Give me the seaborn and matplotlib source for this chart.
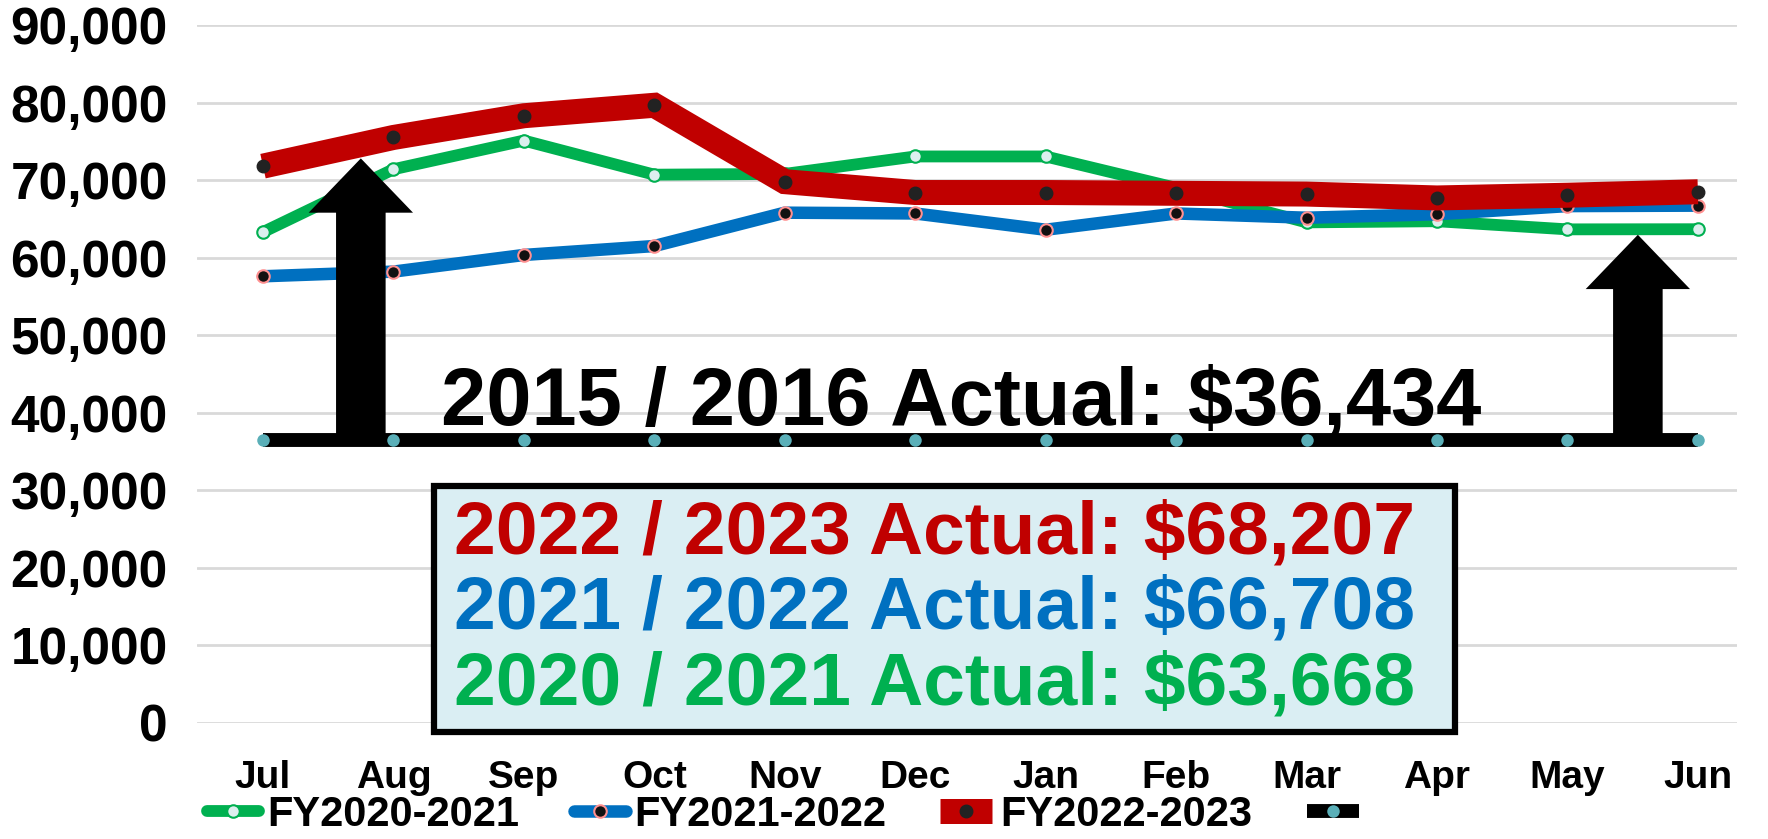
import matplotlib
matplotlib.use("Agg")
import matplotlib.pyplot as plt
import seaborn as sns
import numpy as np
import pandas as pd
from matplotlib.patches import FancyArrow, Rectangle
from matplotlib.ticker import FuncFormatter

months = ['Jul', 'Aug', 'Sep', 'Oct', 'Nov', 'Dec', 'Jan', 'Feb', 'Mar', 'Apr', 'May', 'Jun']
fy2020_2021 = [63300, 71400, 75100, 70700, 70800, 73050, 73050, 69000, 64550, 64700, 63650, 63668]
fy2021_2022 = [57600, 58200, 60350, 61500, 65800, 65700, 63600, 65700, 65150, 65600, 66650, 66708]
fy2022_2023 = [71800, 75500, 78300, 79650, 69800, 68400, 68400, 68300, 68200, 67700, 68050, 68500]
baseline_2015_2016 = [36434, 36434, 36434, 36434, 36434, 36434, 36434, 36434, 36434, 36434, 36434, 36434]
series_labels = ['FY2020-2021', 'FY2021-2022', 'FY2022-2023', '']
box_lines = ['2022 / 2023 Actual: $68,207', '2021 / 2022 Actual: $66,708', '2020 / 2021 Actual: $63,668']
base_text = '2015 / 2016 Actual: $36,434'
yticks = [0, 10000, 20000, 30000, 40000, 50000, 60000, 70000, 80000, 90000]
arrow_left_x, arrow_left_tip = 0.75, 72800
arrow_right_x, arrow_right_tip = 10.54, 62950

sns.set_theme(style='white')
plt.rcParams['font.family'] = ['Liberation Sans', 'DejaVu Sans']
plt.rcParams['font.weight'] = 'bold'
plt.rcParams['text.color'] = 'black'
plt.rcParams['xtick.color'] = 'black'
plt.rcParams['ytick.color'] = 'black'

W, H = 1768, 839
fig = plt.figure(figsize=(W / 100, H / 100), dpi=100)
ax = fig.add_axes([197 / W, 1 - 723 / H, (1737 - 197) / W, (723 - 25) / H])

x = np.arange(len(months))
df = pd.DataFrame({'x': x, 'g': fy2020_2021, 'b': fy2021_2022, 'r': fy2022_2023, 'k': baseline_2015_2016})

GREEN, BLUE, RED = '#00b050', '#0070c0', '#c00000'

sns.lineplot(data=df, x='x', y='g', ax=ax, color=GREEN, linewidth=8.5, marker='o', markersize=9,
             markerfacecolor='#dcefee', markeredgecolor=GREEN, markeredgewidth=1.5,
             solid_capstyle='round', zorder=3, label=series_labels[0])
sns.lineplot(data=df, x='x', y='b', ax=ax, color=BLUE, linewidth=9, marker='o', markersize=9,
             markerfacecolor='#111111', markeredgecolor='#ff9090', markeredgewidth=1.5,
             solid_capstyle='round', zorder=4, label=series_labels[1])
sns.lineplot(data=df, x='x', y='r', ax=ax, color=RED, linewidth=18, marker='o', markersize=9,
             markerfacecolor='#222222', markeredgecolor='#222222', markeredgewidth=1,
             solid_capstyle='butt', solid_joinstyle='miter', zorder=5, label=series_labels[2])
sns.lineplot(data=df, x='x', y='k', ax=ax, color='black', linewidth=10, marker='o', markersize=9,
             markerfacecolor='#5aafb8', markeredgecolor='#5aafb8', markeredgewidth=0,
             solid_capstyle='butt', zorder=3, label='_base')

handles = list(ax.lines[:4])

# arrows
for ax_x, tip in [(arrow_left_x, arrow_left_tip), (arrow_right_x, arrow_right_tip)]:
    base = baseline_2015_2016[0]
    arr = FancyArrow(ax_x, base, 0, tip - base, width=0.38, head_width=0.80,
                     head_length=7000, length_includes_head=True,
                     color='black', zorder=6, linewidth=0)
    ax.add_patch(arr)

ax.text(5.35, 38450, base_text, ha='center', va='baseline', fontsize=58.5,
        fontweight='bold', color='black', zorder=7)

ax.set_xlim(-0.506, 11.3)
ax.set_ylim(0, 90000)
ax.set_yticks(yticks)
ax.yaxis.set_major_formatter(FuncFormatter(lambda v, p: f'{int(v):,}'))
ax.set_xticks(x)
ax.set_xticklabels(months)
ax.set_xlabel('')
ax.set_ylabel('')
ax.grid(axis='y', color='#d9d9d9', linewidth=2)
ax.grid(axis='x', visible=False)
ax.set_axisbelow(True)
for s in ax.spines.values():
    s.set_visible(False)
ax.tick_params(axis='y', length=0, pad=21, labelsize=37, labelcolor='black')
ax.tick_params(axis='x', length=0, pad=27, labelsize=28, labelcolor='black')
for lab in ax.get_xticklabels() + ax.get_yticklabels():
    lab.set_fontweight('bold')

# text box
rect = Rectangle((434 / W, 1 - 732 / H), (1455 - 434) / W, (732 - 486) / H,
                 transform=fig.transFigure, facecolor='#daeef3', edgecolor='black',
                 linewidth=4.5, zorder=8)
fig.patches.append(rect)
for txt, col, yy in zip(box_lines, [RED, BLUE, GREEN], [534, 609, 685]):
    fig.text(934 / W, 1 - yy / H, txt, ha='center', va='center', fontsize=54,
             fontweight='bold', color=col, zorder=9)

leg = ax.legend(handles, series_labels, loc='center left',
                bbox_to_anchor=(207 / W, 1 - 815 / H), bbox_transform=fig.transFigure,
                ncol=4, frameon=False, prop={'weight': 'bold', 'size': 30},
                handlelength=1.25, handletextpad=0.2, columnspacing=1.3,
                borderpad=0, borderaxespad=0, numpoints=1)
for t in leg.get_texts():
    t.set_color('black')

fig.savefig('out.png', dpi=100)
